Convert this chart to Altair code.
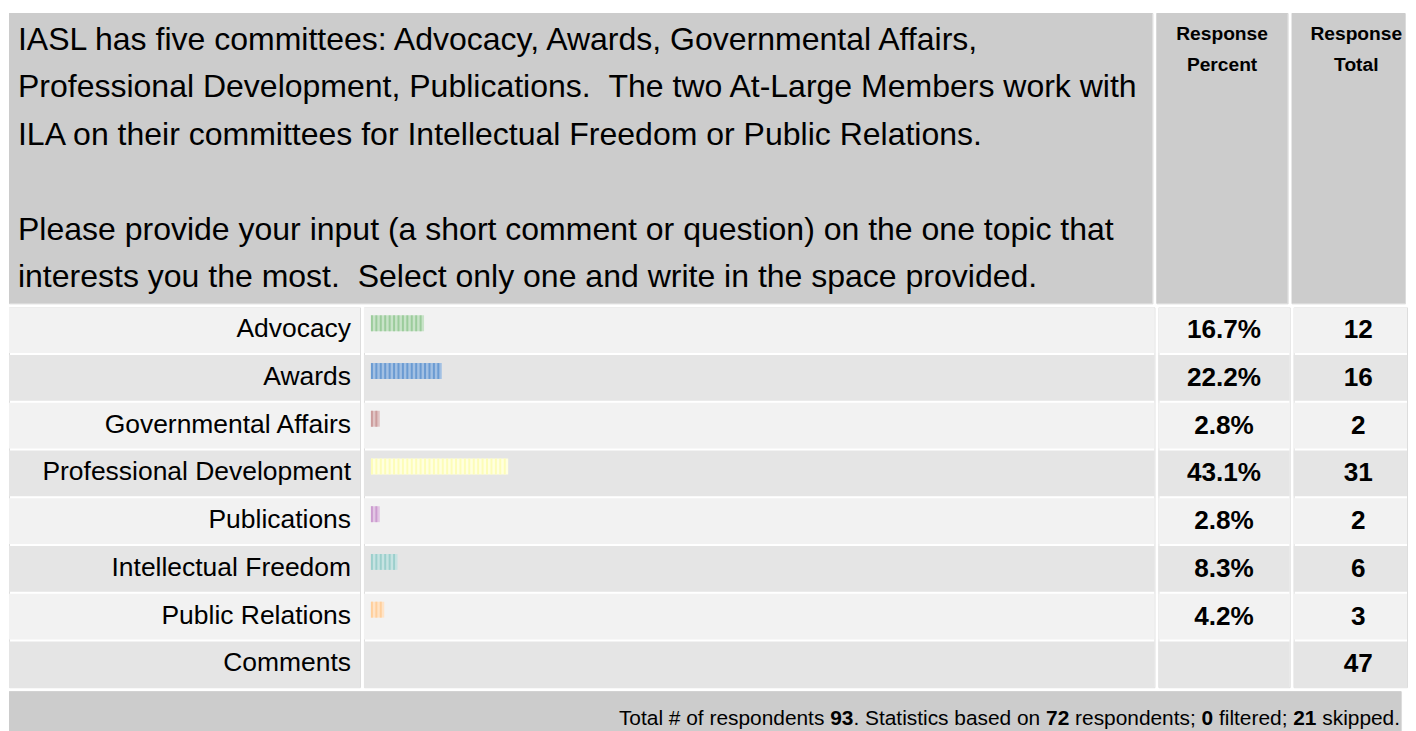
import altair as alt
import pandas as pd

# ---------------- data ----------------
question_para1 = [
    "IASL has five committees: Advocacy, Awards, Governmental Affairs,",
    "Professional Development, Publications. \u00a0The two At-Large Members work with",
    "ILA on their committees for Intellectual Freedom or Public Relations.",
]
question_para2 = [
    "Please provide your input (a short comment or question) on the one topic that",
    "interests you the most. \u00a0Select only one and write in the space provided.",
]
header_percent = ["Response", "Percent"]
header_total = ["Response", "Total"]

categories = ["Advocacy", "Awards", "Governmental Affairs", "Professional Development",
              "Publications", "Intellectual Freedom", "Public Relations", "Comments"]
percents = [16.7, 22.2, 2.8, 43.1, 2.8, 8.3, 4.2, None]
totals = [12, 16, 2, 31, 2, 6, 3, 47]

footer_segments = ["Total # of respondents ", "93", ". Statistics based on ", "72",
                   " respondents; ", "0", " filtered; ", "21", " skipped."]
footer_bold = [False, True, False, True, False, True, False, True, False]

# ---------------- style ----------------
FONT = "Liberation Sans"
dark_colors = ["#9ccc9c", "#6b9bd2", "#cc9d9d", "#fdfdb8", "#cc9ccf", "#9ccfcc", "#ffcf9c"]
light_colors = ["#c8e3c8", "#a2c0e3", "#e0c4c4", "#ffffe0", "#e2c6e4", "#c6e3e2", "#ffe3c6"]
row_fills = ["#f2f2f2", "#e5e5e5"]
HEAD = "#cccccc"

W_LABEL, W_BAR, W_PCT, W_TOT = 353, 795, 132, 114
W_Q = W_LABEL + 2 + W_BAR
H_HEAD, H_BODY, H_FOOT = 292, 382, 45
LH_Q = 47.8

rows_df = pd.DataFrame({
    "row": categories,
    "fill": [row_fills[i % 2] for i in range(len(categories))],
    "pct": [("" if p is None else f"{p:.1f}%") for p in percents],
    "total": [str(t) for t in totals],
})

bar_df = pd.DataFrame({
    "row": categories[:7],
    "x0": [0] * 7,
    "x1": totals[:7],
    "light": light_colors,
})
unit_rows = []
for cat, n, col in zip(categories[:7], totals[:7], dark_colors):
    for i in range(n):
        unit_rows.append({"row": cat, "u0": i, "u1": i + 0.45, "dark": col})
unit_df = pd.DataFrame(unit_rows)

Y = alt.Y("row:N", sort=categories, axis=None,
          scale=alt.Scale(domain=categories, paddingInner=2 / 48, paddingOuter=0))


def bg(w):
    return alt.Chart(rows_df).mark_rect().encode(
        y=Y, x=alt.value(0), x2=alt.value(w),
        color=alt.Color("fill:N", scale=None))


one = pd.DataFrame({"a": [0]})


def cell(w, h, fill):
    return alt.Chart(one).mark_rect(color=fill).encode(
        x=alt.value(0), x2=alt.value(w), y=alt.value(0), y2=alt.value(h))


def qtext(lines, y):
    return alt.Chart(one).mark_text(align="left", baseline="alphabetic", font=FONT,
                                    fontSize=32.2, lineHeight=LH_Q, color="#000").encode(
        x=alt.value(9), y=alt.value(y), text=alt.value(lines))


# ---------------- header ----------------
hq = alt.layer(
    cell(W_Q, H_HEAD, HEAD),
    qtext(question_para1, 37),
    qtext(question_para2, 37 + 4 * LH_Q),
).properties(width=W_Q, height=H_HEAD)

hp = alt.layer(
    cell(W_PCT, H_HEAD, HEAD),
    alt.Chart(one).mark_text(align="center", baseline="alphabetic", font=FONT,
                             fontSize=19.3, fontWeight="bold", lineHeight=31,
                             color="#000").encode(
        x=alt.value(W_PCT / 2), y=alt.value(27), text=alt.value(header_percent)),
).properties(width=W_PCT, height=H_HEAD)

ht = alt.layer(
    cell(W_TOT, H_HEAD, HEAD),
    alt.Chart(one).mark_text(align="center", baseline="alphabetic", font=FONT,
                             fontSize=19.3, fontWeight="bold", lineHeight=31,
                             color="#000").encode(
        x=alt.value(65), y=alt.value(27), text=alt.value(header_total)),
).properties(width=W_TOT, height=H_HEAD)

header = alt.hconcat(hq, hp, ht, spacing=2)

# ---------------- body ----------------
c_label = alt.layer(
    bg(W_LABEL),
    alt.Chart(rows_df).mark_text(align="right", baseline="middle", font=FONT,
                                 fontSize=26.6, dy=-1, color="#000").encode(
        y=Y, x=alt.value(344), text="row:N"),
).properties(width=W_LABEL, height=H_BODY)

XS = alt.Scale(domain=[0, 177], range=[7, 795], nice=False, zero=False)
c_bar = alt.layer(
    bg(W_BAR),
    alt.Chart(bar_df).mark_bar(size=16, yOffset=-7).encode(
        y=Y, x=alt.X("x0:Q", scale=XS, axis=None), x2="x1:Q",
        color=alt.Color("light:N", scale=None)),
    alt.Chart(unit_df).mark_bar(size=16, yOffset=-7).encode(
        y=Y, x=alt.X("u0:Q", scale=XS, axis=None), x2="u1:Q",
        color=alt.Color("dark:N", scale=None)),
).properties(width=W_BAR, height=H_BODY)

c_pct = alt.layer(
    bg(W_PCT),
    alt.Chart(rows_df).mark_text(align="center", baseline="middle", font=FONT,
                                 fontSize=26.3, fontWeight="bold", color="#000").encode(
        y=Y, x=alt.value(W_PCT / 2), text="pct:N"),
).properties(width=W_PCT, height=H_BODY)

c_tot = alt.layer(
    bg(W_TOT),
    alt.Chart(rows_df).mark_text(align="center", baseline="middle", font=FONT,
                                 fontSize=26.3, fontWeight="bold", color="#000").encode(
        y=Y, x=alt.value(65), text="total:N"),
).properties(width=W_TOT, height=H_BODY)

body = alt.hconcat(c_label, c_bar, c_pct, c_tot, spacing=2)

# ---------------- footer ----------------
ARIAL = {' ': 278, '#': 556, '.': 278, ';': 278, 'T': 611, 'S': 667, 'a': 556,
         'b': 556, 'c': 500, 'd': 556, 'e': 556, 'f': 278, 'i': 222, 'k': 500,
         'l': 222, 'n': 556, 'o': 556, 'p': 556, 'r': 333, 's': 500, 't': 278}
FS_FOOT = 21


def tw(s):
    return sum(ARIAL.get(ch, 556) for ch in s) * FS_FOOT / 1000


W_FOOT = W_Q + 2 + W_PCT + 2 + W_TOT
END = W_FOOT - 1
seg_rows = []
for k, (seg, b) in enumerate(zip(footer_segments, footer_bold)):
    trail = len(seg) - len(seg.rstrip())
    suffix = "".join(footer_segments[k + 1:])
    right = END - tw(suffix) - tw(seg[len(seg) - trail:] if trail else "")
    seg_rows.append({"x": right, "t": seg.strip(), "bold": b})
seg_df = pd.DataFrame(seg_rows)

footer = alt.layer(
    cell(W_FOOT, H_FOOT, HEAD),
    alt.Chart(seg_df).transform_filter("!datum.bold").mark_text(
        align="right", baseline="alphabetic", font=FONT, fontSize=FS_FOOT,
        color="#000").encode(x=alt.X("x:Q", scale=None), y=alt.value(34), text="t:N"),
    alt.Chart(seg_df).transform_filter("datum.bold").mark_text(
        align="right", baseline="alphabetic", font=FONT, fontSize=FS_FOOT,
        fontWeight="bold", color="#000").encode(
        x=alt.X("x:Q", scale=None), y=alt.value(34), text="t:N"),
).properties(width=W_FOOT, height=H_FOOT)

chart = alt.vconcat(header, body, footer, spacing=2).properties(
    padding={"left": 0, "top": 2, "right": 0, "bottom": 0}
).configure_view(stroke=None).configure(background="white")

chart.save("out.html", embed_options={"renderer": "svg", "actions": False})
